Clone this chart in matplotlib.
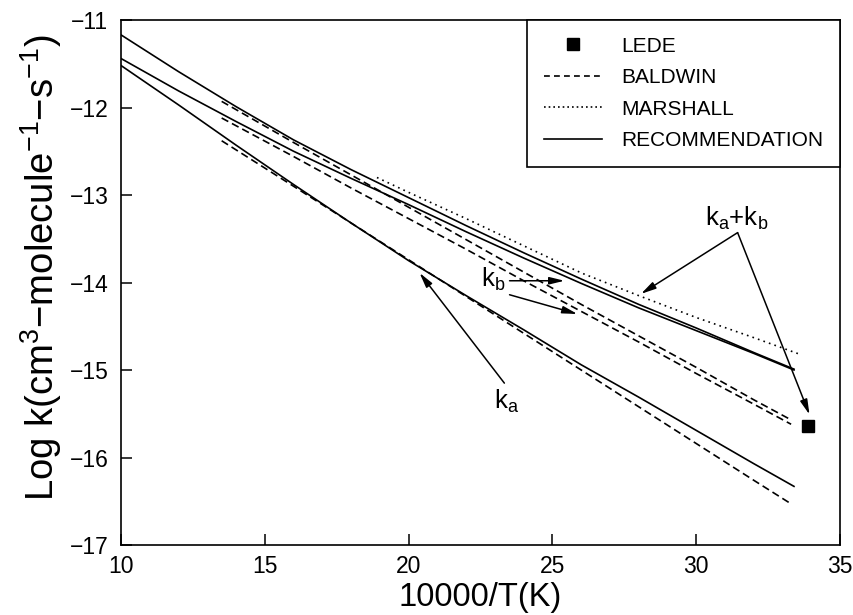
import matplotlib
matplotlib.use("Agg")
import matplotlib.pyplot as plt

plt.rcParams['font.family'] = ['Liberation Sans', 'DejaVu Sans']
plt.rcParams['mathtext.fontset'] = 'custom'
plt.rcParams['mathtext.rm'] = 'Liberation Sans'
plt.rcParams['mathtext.it'] = 'Liberation Sans'

# ---- data ----
# Recommendation
rec_x = [10, 12, 14, 16, 18, 20, 22, 24, 26, 28, 30, 32, 33.4]
rec_sum = [-11.17, -11.59, -11.99, -12.37, -12.71, -13.03, -13.35, -13.66,
           -13.96, -14.25, -14.52, -14.80, -14.99]
rec_kb = [-11.44, -11.81, -12.16, -12.50, -12.81, -13.11, -13.42, -13.72,
          -14.01, -14.29, -14.55, -14.81, -15.00]
rec_ka = [-11.52, -11.97, -12.43, -12.88, -13.32, -13.75, -14.15, -14.54,
          -14.94, -15.31, -15.69, -16.07, -16.33]

# Baldwin
bal_x = [13.5, 16, 18, 20, 22, 24, 26, 28, 30, 32, 33.3]
bal_sum = [-11.93, -12.40, -12.77, -13.14, -13.51, -13.88, -14.25, -14.61,
           -14.97, -15.34, -15.57]
bal_kb = [-12.12, -12.56, -12.92, -13.27, -13.62, -13.98, -14.33, -14.68,
          -15.04, -15.39, -15.62]
bal_ka = [-12.38, -12.90, -13.32, -13.74, -14.16, -14.58, -15.00, -15.42,
          -15.84, -16.26, -16.53]

# Marshall
mar_x = [18.9, 20, 22, 24, 26, 28, 30, 32, 33.6]
mar_sum = [-12.80, -12.97, -13.27, -13.58, -13.89, -14.15, -14.40, -14.63, -14.82]

# Lede
lede_x = [33.9]
lede_y = [-15.64]

xticks = [10, 15, 20, 25, 30, 35]
yticks = [-17, -16, -15, -14, -13, -12, -11]
legend_labels = ['LEDE', 'BALDWIN', 'MARSHALL', 'RECOMMENDATION']

# ---- figure ----
fig = plt.figure(figsize=(8.54, 6.15), dpi=100)
ax = fig.add_axes([121/854, 1-545/615, (840-121)/854, (545-20)/615])

lw = 1.2
dash = (0, (4.5, 2.5))
dot = (0, (1, 2.5))

ax.plot(rec_x, rec_sum, color='k', lw=lw, ls='-')
ax.plot(rec_x, rec_kb, color='k', lw=lw, ls='-')
ax.plot(rec_x, rec_ka, color='k', lw=lw, ls='-')
ax.plot(bal_x, bal_sum, color='k', lw=lw, ls=dash)
ax.plot(bal_x, bal_kb, color='k', lw=lw, ls=dash)
ax.plot(bal_x, bal_ka, color='k', lw=lw, ls=dash)
ax.plot(mar_x, mar_sum, color='k', lw=lw, ls=dot)
ax.plot(lede_x, lede_y, ls='none', marker='s', color='k', markersize=8)

# legend proxies
h_lede, = ax.plot([], [], ls='none', marker='s', color='k', markersize=9)
h_bal, = ax.plot([], [], color='k', lw=lw, ls=(0, (3.5, 2.5)))
h_mar, = ax.plot([], [], color='k', lw=lw, ls=(0, (1, 1.8)))
h_rec, = ax.plot([], [], color='k', lw=lw, ls='-')
leg = ax.legend([h_lede, h_bal, h_mar, h_rec], legend_labels,
                loc='upper right', borderaxespad=0.0, fancybox=False,
                frameon=True, edgecolor='k', fontsize=15, handlelength=2.8,
                handletextpad=0.9, labelspacing=0.6, borderpad=0.8)
leg.get_frame().set_linewidth(1.2)
leg.get_frame().set_alpha(1)

# annotations
ap = dict(arrowstyle='-|>,head_length=0.9,head_width=0.22', color='k',
          lw=1.1, shrinkA=0, shrinkB=0)
ax.text(31.39, -13.27, r'k$_\mathrm{a}$+k$_\mathrm{b}$', fontsize=18.5,
        ha='center', va='center')
ax.annotate('', xy=(28.08, -14.13), xytext=(31.44, -13.43), arrowprops=ap)
ax.annotate('', xy=(33.94, -15.51), xytext=(31.44, -13.43), arrowprops=ap)

ax.text(22.95, -13.96, r'k$_\mathrm{b}$', fontsize=18.5, ha='center', va='center')
ax.annotate('', xy=(25.42, -13.98), xytext=(23.51, -13.98), arrowprops=ap)
ax.annotate('', xy=(25.87, -14.36), xytext=(23.51, -14.14), arrowprops=ap)

ax.text(23.39, -15.36, r'k$_\mathrm{a}$', fontsize=18.5, ha='center', va='center')
ax.annotate('', xy=(20.38, -13.89), xytext=(23.33, -15.15), arrowprops=ap)

# axes
ax.set_xlim(10, 35)
ax.set_ylim(-17, -11)
ax.set_xticks(xticks)
ax.set_yticks(yticks)
ax.tick_params(direction='in', length=8, width=1.1, labelsize=16.5,
               top=False, right=False)
ax.tick_params(axis='x', pad=7)
ax.tick_params(axis='y', pad=9)
for s in ax.spines.values():
    s.set_linewidth(1.2)
ax.set_xlabel('10000/T(K)', fontsize=23.5)
ax.xaxis.set_label_coords(0.5, (545 - 606) / 525)
ax.xaxis.label.set_va('baseline')
ax.set_ylabel(r'Log k(cm$^\mathrm{3}$$-$molecule$^{\mathrm{-1}}$$-$s$^{\mathrm{-1}}$)',
              fontsize=27.5)
ax.yaxis.set_label_coords((18 - 121) / 719, (545 - 268) / 525)
ax.yaxis.label.set_ha('left') if False else None
ax.yaxis.label.set_va('top')

fig.savefig('out.png', dpi=100)
